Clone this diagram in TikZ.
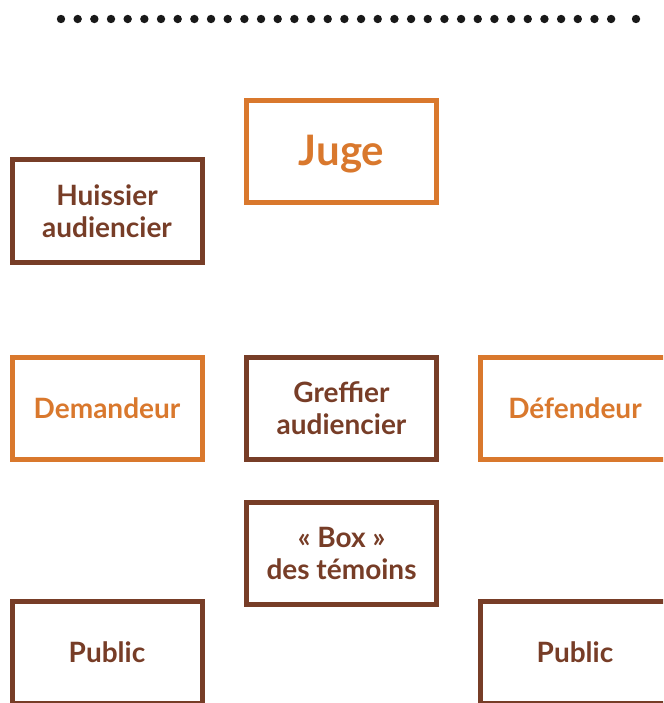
\documentclass[tikz,border=0pt]{standalone}
\usepackage{fontspec}
\setmainfont{Lato}
\definecolor{orangejuge}{HTML}{D9782D}
\definecolor{brunbox}{HTML}{773D27}
\tikzset{
  salle/.style={draw, line width=5pt, minimum width=190pt, minimum height=102pt,
    align=center, font=\bfseries\fontsize{28}{32}\selectfont, inner sep=0pt},
  orange/.style={salle, draw=orangejuge, text=orangejuge},
  brun/.style={salle, draw=brunbox, text=brunbox}
}
\begin{document}
\begin{tikzpicture}[x=1pt,y=-1pt]
\useasboundingbox (0,0) rectangle (663,703);
\clip (0,0) rectangle (663,703);
% ligne de points
\foreach \i in {0,...,33}
  \fill[black!90] (61+\i*16.67,19) circle (4.2);
\fill[black!90] (636,19) circle (4.2);
% places dans la salle
\node[orange, font=\bfseries\fontsize{42}{46}\selectfont, text height=30pt, text depth=2pt] (juge) at (341.5,151.5) {Juge};
\node[brun] (huissier) at (107,211) {Huissier\\audiencier};
\node[orange] (demandeur) at (107,408.5) {Demandeur};
\node[brun] (greffier) at (341.5,408.5) {Greffier\\audiencier};
\node[orange] (defendeur) at (575,408.5) {Défendeur};
\node[brun] (temoins) at (341.5,553) {« Box »\\des témoins};
\node[brun] (public1) at (107,652) {Public};
\node[brun] (public2) at (575,652) {Public};
\end{tikzpicture}
\end{document}
